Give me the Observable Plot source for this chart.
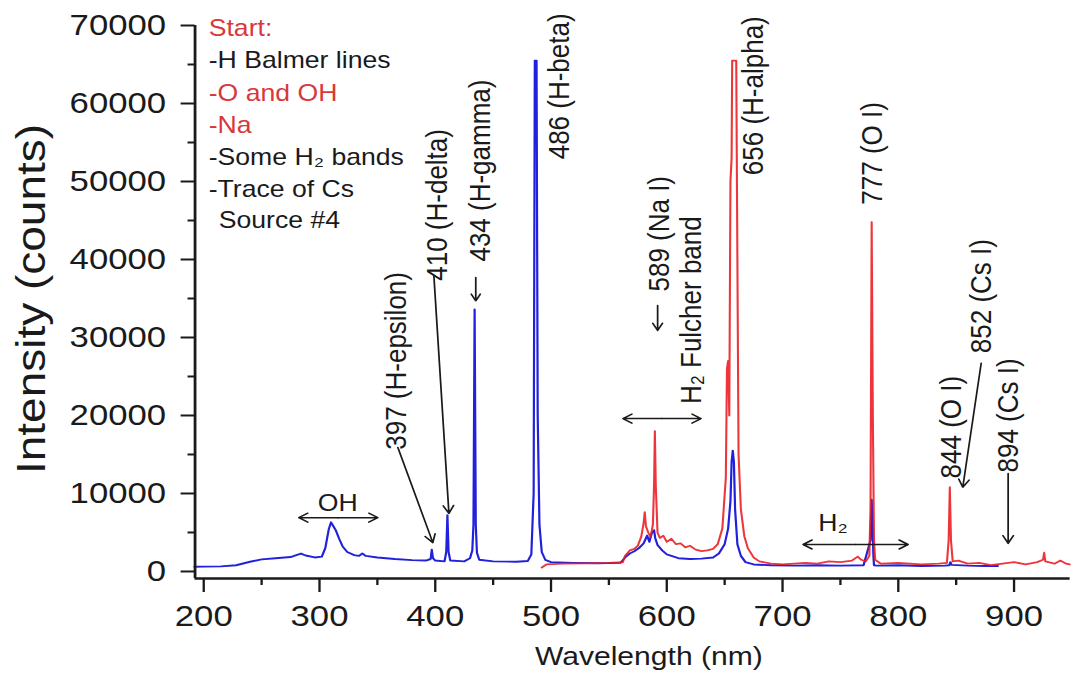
<!DOCTYPE html>
<html><head><meta charset="utf-8">
<script src="https://cdn.jsdelivr.net/npm/d3@7"></script>
<script src="https://cdn.jsdelivr.net/npm/@observablehq/plot@0.6"></script>
<style>
html,body{margin:0;padding:0;background:#fff;overflow:hidden}
#chart{width:933px;height:691px;transform:scaleX(1.1576);transform-origin:0 0}
</style></head><body><div id="chart"></div><script>
// ---- Spectrum 1 (blue) ----
const blueWavelength = [192,200,215,228,240,250,262,275,280,284,288,296,302,305,308,310,312,314,317,320,324,330,334,337,340,350,365,380,392,396,397,398,400,408,409.5,410.5,411.5,413,425,430,432,433,434,435,436,438,450,470,480,483,485,486,487.5,488.5,490,492,495,500,520,540,560,564,568,572,576,580,583,585,587,589,590,592,596,600,610,620,630,640,645,650,653,655,656,657,658,659,661,664,668,675,690,710,730,750,770,776,777,778.5,779,781,800,820,840,844,845,846,860,875,886];
const blueCounts     = [600,620,650,800,1250,1550,1700,1850,2100,2300,2050,1800,1900,3000,5400,6300,5800,5300,4200,3200,2500,2100,2000,2300,2000,1800,1600,1450,1400,1600,2800,1700,1400,1300,2500,7200,2500,1400,1300,1700,2700,6000,33600,6000,2400,1500,1300,1250,1350,2200,10000,65500,65500,20000,6000,2500,1500,1200,1100,1050,1100,1800,2300,2600,3000,3600,4600,3800,4900,5300,4300,3400,2700,2200,1700,1600,1650,1800,2300,3500,5500,9000,14000,15500,14000,8000,3500,2000,1200,900,800,750,800,750,800,4000,9200,2000,800,750,800,700,750,800,1200,850,750,700,700];
// ---- Spectrum 2 (red) ----
const redWavelength = [492,496,510,530,550,562,564,568,572,575,578,580,581,582,584,586,588,589,589.7,590.5,592,594,597,600,604,608,612,616,620,625,630,635,640,644,648,651,652,653,654,655,656,656.5,660,661,662,664,667,670,675,680,690,700,710,720,730,740,750,760,765,768,772,775,776,777,778,779,780,785,800,820,835,842,843.5,844.5,845.5,847,852,860,870,880,890,900,910,920,925,926,927,935,940,945,948];
const redCounts     = [500,900,1000,1050,1100,1200,2000,2700,2900,3300,4500,6200,7600,5800,5000,4400,6000,11000,18000,11000,5000,4300,4600,3800,4200,3500,3600,3100,3300,2800,2600,2700,2900,3500,5500,12000,26000,27000,20000,50000,53000,65500,65500,40000,15000,8000,4500,3000,1800,1300,1000,900,1000,1100,1000,1300,1200,1400,1900,1500,1300,2000,8000,44800,20000,4000,1500,1000,1100,900,1000,1100,4000,10800,4000,1300,1400,1000,1100,800,1000,1200,900,1200,1500,2400,1300,1000,1400,1000,900];

// ---- axes ----
const xDomain = [192.5, 948.5];
const yDomain = [-900, 70000];
const xMajorTicks = [200,300,400,500,600,700,800,900];
const xMinorTicks = [250,350,450,550,650,750,850];
const yMajorTicks = [0,10000,20000,30000,40000,50000,60000,70000];
const yMinorTicks = [5000,15000,25000,35000,45000,55000,65000];
const xTitle = "Wavelength (nm)";
const yTitle = "Intensity (counts)";

// ---- rotated peak labels ----
const peakLabelText = ["397 (H-epsilon)","410 (H-delta)","434 (H-gamma)","486 (H-beta)","589 (Na I)","H\u2082 Fulcher band","656 (H-alpha)","777 (O I)","844 (O I)","852 (Cs I)","894 (Cs I)"];
const peakLabelX    = [366.8, 402.2, 439.4, 507, 593.3, 621, 675, 777.8, 845.6, 871.6, 894.9];
const peakLabelY    = [27000, 47000, 51400, 62200, 43300, 33500, 61000, 53600, 18500, 35300, 20000];

// ---- horizontal band labels ----
const bandLabelText = ["OH","H\u2082"];
const bandLabelX    = [315.8, 743.6];
const bandLabelY    = [8700, 6150];

// ---- single arrows (from -> to) ----
const arrowX1 = [367.7, 398.8, 435, 592.1, 871.6, 894.9];
const arrowY1 = [15900, 37950, 37700, 34100, 26700, 12560];
const arrowX2 = [397.9, 411.8, 435, 592.1, 855.7, 894.9];
const arrowY2 = [3700, 7440, 34700, 30900, 10800, 3590];

// ---- double arrows (band extents) ----
const bandStart = [282.1, 562.1, 717.7];
const bandEnd   = [350.4, 629.6, 808.5];
const bandLevel = [6900, 19600, 3460];

// ---- legend text ----
const legendText  = ["Start:","-H Balmer lines","-O and OH","-Na","-Some H\u2082 bands","-Trace of Cs","Source #4"];
const legendColor = ["#d8383a","#1a1a1a","#d8383a","#d8383a","#1a1a1a","#1a1a1a","#1a1a1a"];
const legendX     = [204.3,204.3,204.3,204.3,204.3,204.3,213];
const legendY     = [69600,65500,61300,57200,53100,49000,45000];

const FONT = "'Liberation Sans', Arial, Helvetica, sans-serif";
const BLUE = "#2020dd";
const RED = "#ea1a20";
const INK = "#1a1a1a";

const blue = blueWavelength.map((w, i) => ({w, c: blueCounts[i]}));
const red = redWavelength.map((w, i) => ({w, c: redCounts[i]}));
const peakLabels = peakLabelText.map((t, i) => ({t, x: peakLabelX[i], y: peakLabelY[i]}));
const bandLabels = bandLabelText.map((t, i) => ({t, x: bandLabelX[i], y: bandLabelY[i]}));
const arrows = arrowX1.map((x1, i) => ({x1, y1: arrowY1[i], x2: arrowX2[i], y2: arrowY2[i]}));
const dbl = [];
bandStart.forEach((s, i) => {
  const m = (s + bandEnd[i]) / 2;
  dbl.push({x1: m, x2: s, y: bandLevel[i]});
  dbl.push({x1: m, x2: bandEnd[i], y: bandLevel[i]});
});
const legend = legendText.map((t, i) => ({t, x: legendX[i], y: legendY[i], c: legendColor[i]}));

const chart = Plot.plot({
  width: 933,
  height: 691,
  marginLeft: 168,
  marginRight: 9,
  marginTop: 25,
  marginBottom: 113,
  style: {fontFamily: FONT, background: "#fff", color: INK, overflow: "visible"},
  x: {domain: xDomain},
  y: {domain: yDomain},
  marks: [
    Plot.line(blue, {x: "w", y: "c", stroke: BLUE, strokeWidth: 1.9}),
    Plot.line(red, {x: "w", y: "c", stroke: RED, strokeWidth: 1.8, strokeOpacity: 0.88}),
    Plot.ruleY([yDomain[0]], {stroke: INK, strokeWidth: 2.4}),
    Plot.ruleX([xDomain[0]], {stroke: INK, strokeWidth: 2.4}),
    Plot.axisX(xMajorTicks, {tickSize: 14, tickPadding: 12, fontSize: 30, strokeWidth: 2, label: null, tickFormat: d => String(d)}),
    Plot.axisX(xMinorTicks, {tickSize: 7, strokeWidth: 2, label: null, tickFormat: () => ""}),
    Plot.axisY(yMajorTicks, {tickSize: 12, tickPadding: 13, fontSize: 30, strokeWidth: 2, label: null, tickFormat: d => String(d)}),
    Plot.axisY(yMinorTicks, {tickSize: 6, strokeWidth: 2, label: null, tickFormat: () => ""}),
    Plot.text([xTitle], {frameAnchor: "bottom", dx: 14, dy: 86, fontSize: 26, fill: INK}),
    Plot.text([yTitle], {frameAnchor: "left", textAnchor: "middle", dx: -141, dy: -3, rotate: -90, fontSize: 35, fill: INK}),
    Plot.arrow(arrows, {x1: "x1", y1: "y1", x2: "x2", y2: "y2", stroke: INK, strokeWidth: 1.5, headLength: 9}),
    Plot.arrow(dbl, {x1: "x1", y1: "y", x2: "x2", y2: "y", stroke: INK, strokeWidth: 1.5, headLength: 9}),
    Plot.text(peakLabels, {x: "x", y: "y", text: "t", rotate: -90, fontSize: 26, fill: INK}),
    Plot.text(bandLabels, {x: "x", y: "y", text: "t", fontSize: 23, fill: INK}),
    Plot.text(legend, {x: "x", y: "y", text: "t", fill: "c", fontSize: 23, textAnchor: "start"})
  ]
});
// the y-axis title is drawn elongated in the original figure
chart.querySelectorAll("text").forEach(t => {
  if (t.textContent === yTitle) {
    t.setAttribute("textLength", "350");
    t.setAttribute("lengthAdjust", "spacingAndGlyphs");
  }
});
document.getElementById("chart").append(chart);
</script></body></html>
